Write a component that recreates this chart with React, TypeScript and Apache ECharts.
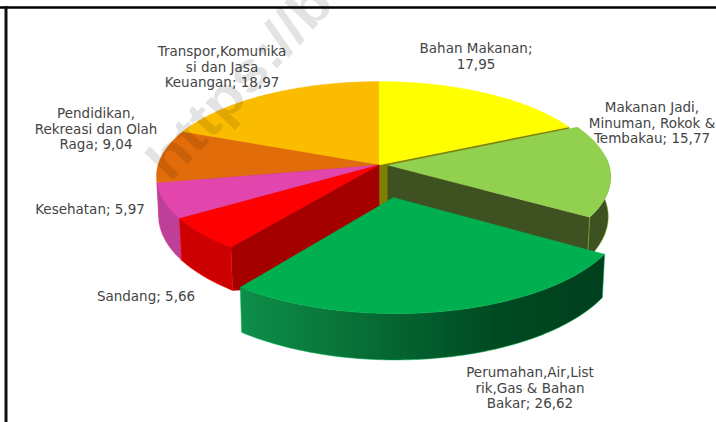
import React, { useEffect, useRef } from "react";
import * as echarts from "echarts";

const names = [
  "Bahan Makanan",
  "Makanan Jadi,\nMinuman, Rokok &\nTembakau",
  "Perumahan,Air,List\nrik,Gas & Bahan\nBakar",
  "Sandang",
  "Kesehatan",
  "Pendidikan,\nRekreasi dan Olah\nRaga",
  "Transpor,Komunika\nsi dan Jasa\nKeuangan",
];
const values = [17.95, 15.77, 26.62, 5.66, 5.97, 9.04, 18.97];
const separators = [";\n", "; ", "; ", "; ", "; ", "; ", "; "];
const explode = [0, 0.04, 0.34, 0, 0, 0, 0];
const topColors = ["#FFFF00", "#92D050", "#00B050", "#FF0000", "#E246AC", "#E36C0A", "#FBBC00"];
const arcWallColors = ["#BFBF00", "#3E5120", "#008040", "#CC0000", "#BE3F98", "#A85008", "#BC8D00"];
const sideWallColors = ["#7F7F00", "#3E5120", "#005028", "#A50000", "#8F2F70", "#803D05", "#806000"];
const paintOrder = [6, 5, 0, 4, 3, 1, 2];
const labelAnchors: [number, number][] = [
  [476, 40], [652, 99], [530, 364], [146, 288], [90, 201], [96, 105], [222, 43],
];

const CX = 379, CY = 165, A = 221, B = 93.5, K = 0.12, DEPTH = 39, LINE_H = 15.7;
const FONT = "'DejaVu Sans', sans-serif";

function project(X: number, U: number, low: boolean): [number, number] {
  const w = 1 + K * U;
  const sx = low ? 0.99 : 1;
  return [CX + (A * X * sx) / w, CY + (-B * U + (low ? DEPTH : 0)) / w];
}

function renderSlice(params: any, api: any) {
  const idx = api.value(0) as number;
  const total = values.reduce((s, v) => s + v, 0);
  let before = 0;
  for (let i = 0; i < idx; i++) before += values[i];
  const a0 = (before / total) * 2 * Math.PI;
  const a1 = ((before + values[idx]) / total) * 2 * Math.PI;
  const mid = (a0 + a1) / 2;
  const ex = Math.sin(mid) * explode[idx];
  const eu = Math.cos(mid) * explode[idx];
  const pt = (a: number, low: boolean) => project(Math.sin(a) + ex, Math.cos(a) + eu, low);
  const apexTop = project(ex, eu, false);
  const apexLow = project(ex, eu, true);
  const steps = Math.max(6, Math.round((a1 - a0) * 60));
  const arc = (low: boolean) => {
    const out: [number, number][] = [];
    for (let s = 0; s <= steps; s++) out.push(pt(a0 + ((a1 - a0) * s) / steps, low));
    return out;
  };
  const topArc = arc(false);
  const lowArc = arc(true);
  const children: any[] = [];
  const poly = (points: [number, number][], fill: any, stroke: any, lw: number) => ({
    type: "polygon",
    shape: { points },
    style: { fill, stroke, lineWidth: lw },
    silent: true,
  });

  // Radial walls that face the viewer; the lower edge runs on under the exploded slice
  const wallEnd = a1 < Math.PI ? a1 : null;
  const wallStart = a0 > Math.PI ? a0 : null;
  [wallEnd, wallStart].forEach((a) => {
    if (a === null) return;
    const rimLow = pt(a, true);
    const under: [number, number] = [
      rimLow[0] + (apexLow[0] - rimLow[0]) * 0.1,
      rimLow[1] + (apexLow[1] - rimLow[1]) * 0.1 + 8,
    ];
    const apexUnder: [number, number] = [apexLow[0], apexLow[1] + 8];
    children.push(
      poly([apexTop, pt(a, false), rimLow, under, apexUnder], sideWallColors[idx], sideWallColors[idx], 0.4)
    );
  });
  // Outer wall along the front of the rim
  const frontTop: [number, number][] = [];
  const frontLow: [number, number][] = [];
  for (let s = 0; s <= steps; s++) {
    const a = a0 + ((a1 - a0) * s) / steps;
    if (Math.cos(a) < 0.1 && a < (260 / 180) * Math.PI) {
      frontTop.push(topArc[s]);
      frontLow.push(lowArc[s]);
    }
  }
  if (frontTop.length > 1) {
    const xs = frontTop.concat(frontLow).map((p) => p[0]);
    const fill =
      idx === 2
        ? new echarts.graphic.LinearGradient(
            Math.min(...xs), 0, Math.max(...xs), 0,
            [
              { offset: 0, color: "#0E8F49" },
              { offset: 0.5, color: "#035E2D" },
              { offset: 0.7, color: "#004A22" },
              { offset: 1, color: "#003F1D" },
            ],
            true
          )
        : arcWallColors[idx];
    children.push(poly(frontTop.concat(frontLow.slice().reverse()), fill, topColors[idx], 0.5));
  }
  // Top face
  children.push(poly([apexTop, ...topArc], topColors[idx], topColors[idx], 0.3));
  return { type: "group", children };
}

export default function App() {
  const ref = useRef<HTMLDivElement>(null);
  useEffect(() => {
    const chart = echarts.init(ref.current!, null, { renderer: "svg" });
    const labels = names.map((n, i) => ({
      type: "text",
      x: labelAnchors[i][0],
      y: labelAnchors[i][1],
      z: 20,
      style: {
        text: `${n}${separators[i]}${values[i].toFixed(2).replace(".", ",")}`,
        font: `13.5px ${FONT}`,
        fill: "#444444",
        align: "center",
        verticalAlign: "top",
        lineHeight: LINE_H,
      },
    }));
    chart.setOption({
      animation: false,
      backgroundColor: "#FFFFFF",
      series: [
        {
          type: "custom",
          coordinateSystem: "none",
          silent: true,
          renderItem: renderSlice,
          data: paintOrder.map((i) => [i]),
          z: 5,
        },
      ],
      graphic: [
        { type: "line", z: 30, shape: { x1: 0, y1: 7.5, x2: 716, y2: 7.5 }, style: { stroke: "#000", lineWidth: 2.5 } },
        { type: "line", z: 30, shape: { x1: 6, y1: 6, x2: 6, y2: 422 }, style: { stroke: "#111", lineWidth: 3 } },
        ...labels,
        {
          type: "text",
          z: 25,
          x: 136,
          y: 151,
          rotation: (47 * Math.PI) / 180,
          scaleX: 1.12,
          style: {
            text: "https://b",
            font: "bold 55px 'Liberation Sans', sans-serif",
            fill: "rgba(0,0,0,0.11)",
            align: "left",
            verticalAlign: "top",
          },
        },
      ],
    });
    return () => chart.dispose();
  }, []);
  return <div ref={ref} style={{ position: "fixed", left: 0, top: 0, width: 716, height: 422 }} />;
}
